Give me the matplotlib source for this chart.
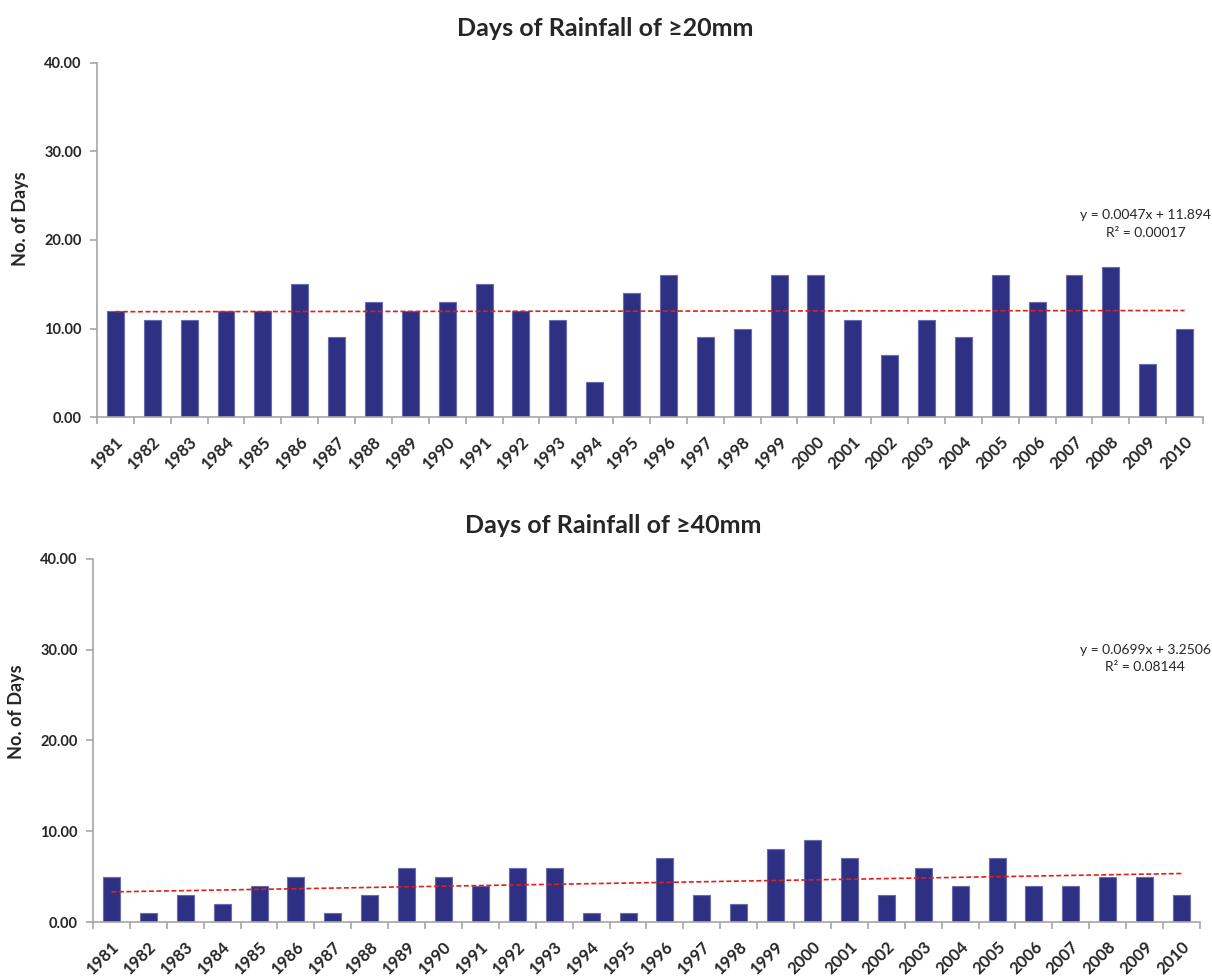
import matplotlib
matplotlib.use('Agg')
import matplotlib.pyplot as plt
import numpy as np
from matplotlib.ticker import FixedLocator, FormatStrFormatter

plt.rcParams['font.family'] = ['Lato', 'DejaVu Sans']

years = [str(y) for y in range(1981, 2011)]
days_20mm = [12, 11, 11, 12, 12, 15, 9, 13, 12, 13, 15, 12, 11, 4, 14,
             16, 9, 10, 16, 16, 11, 7, 11, 9, 16, 13, 16, 17, 6, 10]
days_40mm = [5, 1, 3, 2, 4, 5, 1, 3, 6, 5, 4, 6, 6, 1, 1,
             7, 3, 2, 8, 9, 7, 3, 6, 4, 7, 4, 4, 5, 5, 3]
titles = ['Days of Rainfall of \u226520mm', 'Days of Rainfall of \u226540mm']
eq_texts = [('y = 0.0047x + 11.894', 'R\u00b2 = 0.00017'),
            ('y = 0.0699x + 3.2506', 'R\u00b2 = 0.08144')]

bar_color = '#2E3083'
axis_gray = '#A6A6A6'
text_color = '#262626'

fig = plt.figure(figsize=(12.12, 9.76), dpi=100)

# axes boxes in figure fractions (left, bottom, width, height)
boxes = [(0.080, 0.5727, 0.9126, 0.3628),
         (0.0767, 0.0553, 0.9134, 0.3720)]
title_pos = [(0.499, 0.971), (0.506, 0.462)]
eq_pos = [(0.945, 0.7705), (0.945, 0.3253)]
ylab_y = [0.56, 0.58]

for i, (vals, title) in enumerate(zip([days_20mm, days_40mm], titles)):
    ax = fig.add_axes(boxes[i])
    x = np.arange(len(years))
    ax.bar(x, vals, width=0.46, color=bar_color, edgecolor='#6A6CB0',
           linewidth=0.8, zorder=2)

    # linear trend from the data (1-based index like Excel)
    xi = x + 1
    k, b = np.polyfit(xi, vals, 1)
    ax.plot(x, k * xi + b, color='#E0201B', linestyle=(0, (3, 1.5)),
            linewidth=1.2, zorder=3)

    ax.set_xlim(-0.5, len(years) - 0.5)
    ax.set_ylim(0, 40)

    ax.spines['top'].set_visible(False)
    ax.spines['right'].set_visible(False)
    for s in ['left', 'bottom']:
        ax.spines[s].set_color(axis_gray)
        ax.spines[s].set_linewidth(1.2)

    ax.yaxis.set_major_locator(FixedLocator([0, 10, 20, 30, 40]))
    ax.yaxis.set_major_formatter(FormatStrFormatter('%.2f'))
    ax.tick_params(axis='y', direction='out', length=5, color=axis_gray,
                   width=1.2, labelsize=10.5, pad=6)
    for lab in ax.get_yticklabels():
        lab.set_fontweight('bold')
        lab.set_color(text_color)

    ax.set_xticks(x)
    ax.set_xticklabels(years, rotation=45, ha='right', rotation_mode='anchor',
                       fontsize=12, fontweight='bold', color=text_color)
    ax.tick_params(axis='x', which='major', length=0, pad=12)
    ax.xaxis.set_minor_locator(FixedLocator(np.arange(-0.5, len(years), 1.0)))
    ax.tick_params(axis='x', which='minor', direction='out', length=5,
                   color=axis_gray, width=1.2)

    ax.set_ylabel('No. of Days', fontsize=13, fontweight='bold',
                  color=text_color)
    ax.yaxis.set_label_coords(-0.061, ylab_y[i])

    tx, ty = title_pos[i]
    fig.text(tx, ty, title, ha='center', va='center',
             fontsize=18, fontweight='bold', color=text_color)
    ex, ey = eq_pos[i]
    fig.text(ex, ey, eq_texts[i][0] + '\n' + eq_texts[i][1], ha='center',
             va='center', fontsize=10, color=text_color, linespacing=1.55)

fig.savefig('out.png', dpi=100, facecolor='white')
